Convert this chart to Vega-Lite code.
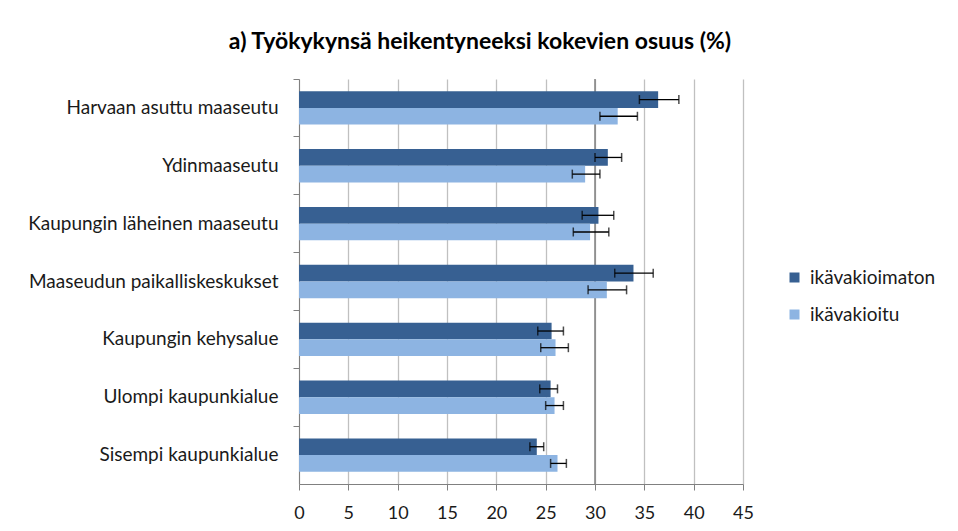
{
  "$schema": "https://vega.github.io/schema/vega-lite/v6.json",
  "width": 444,
  "height": 405,
  "autosize": {"type": "none"},
  "padding": {"left": 299, "top": 79, "right": 215, "bottom": 47},
  "background": "white",
  "config": {
    "font": "Lato",
    "view": {"stroke": null},
    "axis": {"labelFont": "Lato", "labelColor": "#1a1a1a"}
  },
  "title": {
    "text": "a) Työkykynsä heikentyneeksi kokevien osuus (%)",
    "font": "Lato",
    "fontSize": 23,
    "fontWeight": "bold",
    "color": "#000000",
    "anchor": "middle",
    "dx": -41,
    "offset": 24
  },
  "datasets": {
    "main": [
      {"alue": "Harvaan asuttu maaseutu", "sarja": "ikävakioimaton", "arvo": 36.4, "ala": 34.5, "yla": 38.5},
      {"alue": "Harvaan asuttu maaseutu", "sarja": "ikävakioitu", "arvo": 32.3, "ala": 30.5, "yla": 34.3},
      {"alue": "Ydinmaaseutu", "sarja": "ikävakioimaton", "arvo": 31.3, "ala": 30.0, "yla": 32.7},
      {"alue": "Ydinmaaseutu", "sarja": "ikävakioitu", "arvo": 29.0, "ala": 27.7, "yla": 30.5},
      {"alue": "Kaupungin läheinen maaseutu", "sarja": "ikävakioimaton", "arvo": 30.35, "ala": 28.7, "yla": 31.9},
      {"alue": "Kaupungin läheinen maaseutu", "sarja": "ikävakioitu", "arvo": 29.5, "ala": 27.8, "yla": 31.4},
      {"alue": "Maaseudun paikalliskeskukset", "sarja": "ikävakioimaton", "arvo": 33.9, "ala": 32.0, "yla": 35.9},
      {"alue": "Maaseudun paikalliskeskukset", "sarja": "ikävakioitu", "arvo": 31.2, "ala": 29.3, "yla": 33.2},
      {"alue": "Kaupungin kehysalue", "sarja": "ikävakioimaton", "arvo": 25.6, "ala": 24.2, "yla": 26.8},
      {"alue": "Kaupungin kehysalue", "sarja": "ikävakioitu", "arvo": 26.0, "ala": 24.5, "yla": 27.3},
      {"alue": "Ulompi kaupunkialue", "sarja": "ikävakioimaton", "arvo": 25.5, "ala": 24.4, "yla": 26.2},
      {"alue": "Ulompi kaupunkialue", "sarja": "ikävakioitu", "arvo": 25.9, "ala": 25.0, "yla": 26.8},
      {"alue": "Sisempi kaupunkialue", "sarja": "ikävakioimaton", "arvo": 24.1, "ala": 23.4, "yla": 24.8},
      {"alue": "Sisempi kaupunkialue", "sarja": "ikävakioitu", "arvo": 26.2, "ala": 25.5, "yla": 27.1}
    ]
  },
  "data": {"name": "main"},
  "layer": [
    {
      "data": {"values": [{"x": 30}]},
      "mark": {"type": "rule", "color": "#808080", "strokeWidth": 1.5},
      "encoding": {"x": {"field": "x", "type": "quantitative"}}
    },
    {
      "mark": {"type": "bar"},
      "encoding": {
        "y": {
          "field": "alue", "type": "nominal", "sort": null,
          "scale": {"paddingInner": 0, "paddingOuter": 0},
          "axis": {
            "title": null, "bandPosition": 0, "labelFontSize": 19, "labelLimit": 0,
            "labelPadding": 15, "tickSize": 6, "tickColor": "#808080",
            "domainColor": "#808080", "labelColor": "#1a1a1a"
          }
        },
        "yOffset": {
          "field": "sarja", "type": "nominal",
          "scale": {"paddingInner": 0, "paddingOuter": 0.735}
        },
        "x": {
          "field": "arvo", "type": "quantitative",
          "scale": {"domain": [0, 45], "nice": false},
          "axis": {
            "title": null, "values": [0, 5, 10, 15, 20, 25, 30, 35, 40, 45],
            "grid": true, "gridColor": "#c0c0c0", "gridWidth": 1.3,
            "labelFontSize": 18, "labelPadding": 14, "tickSize": 6, "labelFlush": false,
            "tickColor": "#808080", "domainColor": "#808080", "labelColor": "#1a1a1a"
          }
        },
        "color": {
          "field": "sarja", "type": "nominal",
          "scale": {"domain": ["ikävakioimaton", "ikävakioitu"], "range": ["#376092", "#8db4e2"]},
          "legend": {
            "title": null, "orient": "none", "legendX": 486, "legendY": 189,
            "symbolType": "square", "symbolSize": 100, "symbolStrokeWidth": 0,
            "labelFontSize": 19, "labelColor": "#1a1a1a", "rowPadding": 17, "labelOffset": 6
          }
        }
      }
    },
    {
      "mark": {"type": "rule", "color": "#000000", "strokeWidth": 1.3},
      "encoding": {
        "y": {"field": "alue", "type": "nominal", "sort": null},
        "yOffset": {"field": "sarja", "type": "nominal"},
        "x": {"field": "ala", "type": "quantitative"},
        "x2": {"field": "yla"}
      }
    },
    {
      "mark": {"type": "tick", "color": "#000000", "thickness": 1.5, "size": 9},
      "encoding": {
        "y": {"field": "alue", "type": "nominal", "sort": null},
        "yOffset": {"field": "sarja", "type": "nominal"},
        "x": {"field": "ala", "type": "quantitative"}
      }
    },
    {
      "mark": {"type": "tick", "color": "#000000", "thickness": 1.5, "size": 9},
      "encoding": {
        "y": {"field": "alue", "type": "nominal", "sort": null},
        "yOffset": {"field": "sarja", "type": "nominal"},
        "x": {"field": "yla", "type": "quantitative"}
      }
    }
  ]
}
